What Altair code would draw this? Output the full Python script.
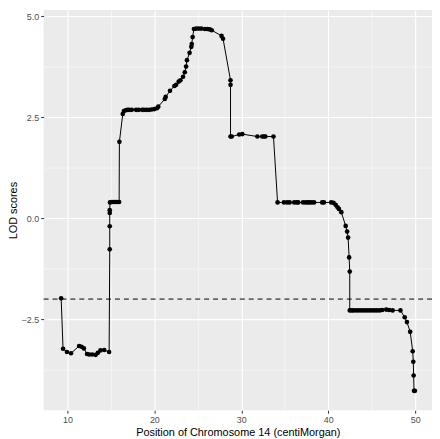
import altair as alt
import pandas as pd

# position (cM) and LOD score, in line order
pos = [9.28, 9.50, 9.95, 10.42, 11.35, 11.63, 11.90, 12.26, 12.51, 12.85,
       13.25, 13.50, 13.80, 14.24, 14.80, 14.87, 14.87, 14.87, 14.87, 14.90,
       15.10, 15.30, 15.50, 15.70, 15.95, 15.98, 16.37, 16.50, 16.70, 16.90,
       17.10, 17.40, 17.90, 18.20, 18.60, 18.80, 19.10, 19.40, 19.70, 20.00,
       20.30, 20.45, 21.20, 21.30, 21.80, 22.30, 22.50, 22.80, 23.00, 23.30,
       23.50, 23.65, 23.75, 24.05, 24.25, 24.30, 24.40, 24.55, 24.80, 25.10,
       25.40, 25.80, 26.10, 26.37, 26.60, 27.73, 27.90, 28.76, 28.76, 28.76,
       28.90, 29.76, 30.12, 31.85, 32.40, 32.60, 32.77, 33.70, 34.17, 34.90,
       35.27, 35.56, 36.08, 36.37, 36.55, 37.10, 37.40, 37.65, 37.84, 38.10,
       38.37, 39.30, 39.50, 40.34, 40.60, 40.85, 41.07, 41.22, 41.50, 42.00,
       42.17, 42.28, 42.40, 42.47, 42.47, 42.70, 42.90, 43.20, 43.50, 43.80,
       44.10, 44.40, 44.70, 45.00, 45.30, 45.60, 45.90, 46.20, 46.66, 47.00,
       47.40, 48.30, 48.79, 49.05, 49.42, 49.71, 49.78, 49.82, 49.86, 49.97]
lod = [-1.98, -3.23, -3.31, -3.34, -3.16, -3.18, -3.22, -3.36, -3.37, -3.37,
       -3.38, -3.33, -3.27, -3.26, -3.31, -0.77, -0.20, 0.13, 0.20, 0.39,
       0.40, 0.40, 0.40, 0.40, 0.40, 1.89, 2.58, 2.65, 2.67, 2.68,
       2.68, 2.68, 2.68, 2.68, 2.68, 2.68, 2.68, 2.68, 2.69, 2.70,
       2.72, 2.76, 2.95, 3.00, 3.15, 3.27, 3.30, 3.38, 3.41, 3.50,
       3.61, 3.75, 3.91, 4.09, 4.24, 4.31, 4.48, 4.68, 4.69, 4.69,
       4.69, 4.68, 4.68, 4.67, 4.65, 4.51, 4.44, 3.41, 3.30, 2.02,
       2.02, 2.07, 2.08, 2.02, 2.02, 2.02, 2.02, 2.02, 0.39, 0.39,
       0.39, 0.39, 0.39, 0.39, 0.39, 0.39, 0.39, 0.39, 0.39, 0.39,
       0.39, 0.39, 0.39, 0.39, 0.38, 0.33, 0.27, 0.23, 0.15, -0.19,
       -0.33, -0.48, -0.97, -1.32, -2.28, -2.28, -2.28, -2.28, -2.28, -2.28,
       -2.28, -2.28, -2.28, -2.28, -2.28, -2.28, -2.28, -2.27, -2.26, -2.27,
       -2.28, -2.28, -2.45, -2.57, -2.81, -3.29, -3.55, -3.89, -4.27, -4.27]

threshold = -2
x_ticks = [10, 15, 20, 25, 30, 35, 40, 45, 50]
y_ticks = [-3.75, -2.5, -1.25, 0, 1.25, 2.5, 3.75, 5.0]

df = pd.DataFrame({"pos": pos, "lod": lod, "i": range(len(pos))})

is_major_x = "datum.value % 10 === 0"
is_major_y = "abs(datum.value) % 2.5 === 0"

x = alt.X("pos:Q", scale=alt.Scale(domain=[7.27, 51.93], nice=False, zero=False),
          title="Position of Chromosome 14 (centiMorgan)",
          axis=alt.Axis(values=x_ticks,
                        labelExpr=f"{is_major_x} ? datum.value : ''",
                        gridWidth={"condition": {"test": is_major_x, "value": 1.1}, "value": 0.5},
                        tickOpacity={"condition": {"test": is_major_x, "value": 1}, "value": 0}))
y = alt.Y("lod:Q", scale=alt.Scale(domain=[-4.75, 5.15], nice=False, zero=False),
          title="LOD scores",
          axis=alt.Axis(values=y_ticks, format=".1f",
                        labelExpr=f"{is_major_y} ? datum.label : ''",
                        gridWidth={"condition": {"test": is_major_y, "value": 1.1}, "value": 0.5},
                        tickOpacity={"condition": {"test": is_major_y, "value": 1}, "value": 0}))

base = alt.Chart(df)
line = base.mark_line(color="black", strokeWidth=1).encode(x=x, y=y, order="i:Q")
points = base.mark_circle(color="black", size=22, opacity=1).encode(x=x, y=y)
rule = alt.Chart(pd.DataFrame({"t": [threshold]})).mark_rule(
    color="black", strokeDash=[5, 4], strokeWidth=1).encode(y="t:Q")

chart = alt.layer(rule, line, points).properties(
    width=392, height=404,
    autosize=alt.AutoSizeParams(type="none"),
    padding={"left": 36, "top": 0, "right": 0, "bottom": 27},
).configure_view(
    fill="#EBEBEB", stroke=None
).configure_axis(
    gridColor="white", domain=False, tickColor="#333333", tickSize=3,
    labelColor="#4D4D4D", labelFont="Liberation Sans", labelFontSize=9,
    labelPadding=2,
    titleFont="Liberation Sans", titleFontSize=11, titleFontWeight="normal",
    titleColor="black",
).configure_axisY(titlePadding=3).configure_axisX(titlePadding=2)

chart.save("out.html", embed_options={"renderer": "svg", "actions": False})
